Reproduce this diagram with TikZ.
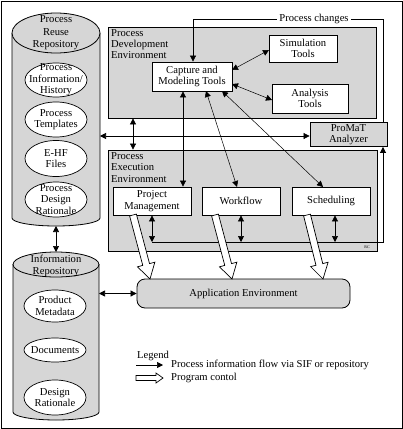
\documentclass[tikz,border=0pt]{standalone}
\usepackage{fontspec}
\setmainfont{Liberation Serif}
\usetikzlibrary{arrows.meta,calc}
\definecolor{fillgray}{RGB}{214,214,214}
\newcommand{\hollowarrow}[5]{%
  \coordinate (haA) at (#1); \coordinate (haB) at (#2);
  \coordinate (haC) at ($(haB)!#5!(haA)$);
  \filldraw[fill=white, line width=0.7pt, line join=miter]
    ($(haA)!#3!90:(haB)$) -- ($(haC)!#3!-90:(haA)$) -- ($(haC)!#4!-90:(haA)$)
    -- (haB) -- ($(haC)!#4!90:(haA)$) -- ($(haC)!#3!90:(haA)$)
    -- ($(haA)!#3!-90:(haB)$) -- cycle;
}
\begin{document}
\begin{tikzpicture}[x=1pt,y=-1pt,
  every node/.style={font=\fontsize{10.6}{12.5}\selectfont},
  box/.style={draw, fill=white, line width=0.8pt, align=center, inner sep=1pt},
  graybox/.style={draw, fill=fillgray, line width=0.8pt, inner sep=0pt},
  lbl/.style={align=center, inner sep=0pt, font=\fontsize{10.6}{11.5}\selectfont},
  arr/.style={-{Triangle[length=6pt,width=6pt]}, line width=0.7pt},
  darr/.style={{Triangle[length=6pt,width=6pt]}-{Triangle[length=6pt,width=6pt]}, line width=0.7pt},
  thin arr/.style={{Triangle[length=6pt,width=6pt]}-{Triangle[length=6pt,width=6pt]}, line width=0.5pt}
]
\useasboundingbox (0,0) rectangle (403,429);
\draw[line width=1pt] (1,1) rectangle (402,428);

% ---------- Process Reuse Repository (cylinder) ----------
\filldraw[fill=fillgray, line width=0.8pt] (12,33) -- (12,218)
  arc[start angle=180, end angle=0, x radius=44, y radius=8] -- (100,33);
\filldraw[fill=fillgray, line width=0.8pt] (56,33) ellipse[x radius=44, y radius=20];
\node[lbl, font=\fontsize{10.6}{12.5}\selectfont] (prr) at (56,33) {Process\\Reuse\\Repository};
\coordinate (prrbot) at (56,226);
\coordinate (prrright) at (100,136);

\draw[fill=white, line width=0.7pt] (56,80) ellipse[x radius=31, y radius=17];
\node[lbl] (pih) at (56,80) {Process\\Information/\\History};
\draw[fill=white, line width=0.7pt] (56,119.5) ellipse[x radius=31, y radius=17.5];
\node[lbl] (pt) at (56,119.5) {Process\\Templates};
\draw[fill=white, line width=0.7pt] (56,158.5) ellipse[x radius=31, y radius=18];
\node[lbl] (ehf) at (56,158.5) {E-HF\\Files};
\draw[fill=white, line width=0.7pt] (56,199.5) ellipse[x radius=31, y radius=17.5];
\node[lbl] (pdr) at (56,199.5) {Process\\Design\\Rationale};

% ---------- Information Repository (cylinder) ----------
\filldraw[fill=fillgray, line width=0.8pt] (13,264) -- (13,412)
  arc[start angle=180, end angle=0, x radius=43, y radius=8] -- (99,264);
\filldraw[fill=fillgray, line width=0.8pt] (56,264.5) ellipse[x radius=43, y radius=12.5];
\node[lbl] (ir) at (56,266) {Information\\Repository};
\coordinate (irtop) at (56,252);

\draw[fill=white, line width=0.7pt] (55,306) ellipse[x radius=31, y radius=16];
\node[lbl] (pmd) at (55,306) {Product\\Metadata};
\draw[fill=white, line width=0.7pt] (55,350) ellipse[x radius=31, y radius=12];
\node[lbl] (doc) at (55,350) {Documents};
\draw[fill=white, line width=0.7pt] (55,397.5) ellipse[x radius=31, y radius=17.5];
\node[lbl] (dr) at (55,397.5) {Design\\Rationale};

\draw[darr] (prrbot) -- (irtop);

% ---------- Process Development Environment ----------
\node[graybox, minimum width=268pt, minimum height=91pt] (pde) at (242,72.5) {};
\node[anchor=north west, align=left, inner sep=0pt, font=\fontsize{10.6}{11}\selectfont] (pdel) at (111,29) {Process\\Development\\Environment};
\node[box, minimum width=80pt, minimum height=29pt, font=\fontsize{10.6}{11.5}\selectfont] (cap) at (192,76.5) {Capture and\\Modeling Tools};
\node[box, minimum width=68pt, minimum height=27pt, font=\fontsize{10.6}{11.5}\selectfont] (sim) at (303,48.5) {Simulation\\Tools};
\node[box, minimum width=76pt, minimum height=29pt, font=\fontsize{10.6}{11.5}\selectfont] (ana) at (310,98.5) {Analysis\\Tools};

% ---------- ProMaT Analyzer ----------
\node[graybox, minimum width=77pt, minimum height=24pt, align=center, font=\fontsize{10.6}{11}\selectfont] (promat) at (348.5,134.5) {ProMaT\\Analyzer};

% ---------- Process Execution Environment ----------
\node[graybox, minimum width=269pt, minimum height=101pt] (pee) at (242.5,200.5) {};
\node[anchor=north west, align=left, inner sep=0pt, font=\fontsize{10.6}{11.5}\selectfont] (peel) at (111,152) {Process\\Execution\\Environment};
\node[box, minimum width=78pt, minimum height=28pt, font=\fontsize{10.6}{11.5}\selectfont] (pm) at (152,201) {Project\\Management};
\node[box, minimum width=78pt, minimum height=28pt] (wf) at (241,201) {Workflow};
\node[box, minimum width=78pt, minimum height=28pt] (sch) at (331,201) {Scheduling};
\node[inner sep=0pt, font=\fontsize{4}{4}\selectfont] (rc) at (367,247) {RC};

% ---------- Application Environment ----------
\node[draw, fill=fillgray, rounded corners=8pt, line width=0.8pt, minimum width=213pt, minimum height=29pt] (app) at (243.5,293.5) {Application Environment};

% ---------- Process changes loop ----------
\coordinate (pcR) at (383,19);
\coordinate (pcL) at (193,19);
\draw[arr] (promat.north -| pcR) -- (pcR) -- (pcL) -- (cap.north -| pcL);
\node[fill=white, inner sep=2pt] (pcl) at (314,19) {Process changes};

% ---------- bottom feedback line to ProMaT ----------
\coordinate (bl) at (152,242);
\coordinate (br) at (383,242);
\coordinate (schx) at (335,0);
\draw[arr] (bl) -- (br) -- (promat.south -| br);
\draw[darr] (pm.south) -- (pm.south |- bl);
\draw[darr] (wf.south) -- (wf.south |- bl);
\draw[darr] (sch.south -| schx) -- (schx |- bl);

% ---------- connectors ----------
\coordinate (xa) at (133,0);
\draw[darr] (pde.south -| xa) -- (pee.north -| xa);
\draw[darr] (prrright) -- (promat.west |- prrright);
\coordinate (xb) at (183,0);
\draw[darr] (cap.south -| xb) -- (pm.north -| xb);
\coordinate (c1) at (206,91);
\coordinate (w1) at (237,187);
\draw[thin arr] (c1) -- (w1);
\coordinate (c2) at (222,91);
\coordinate (s1) at (323,187);
\draw[thin arr] (c2) -- (s1);
\coordinate (c3) at (232,70);
\coordinate (sm1) at (269,50);
\draw[thin arr] (c3) -- (sm1);
\coordinate (c4) at (232,84);
\coordinate (an1) at (272,100);
\draw[thin arr] (c4) -- (an1);
\coordinate (irright) at (99,0);
\draw[darr] (irright |- app.west) -- (app.west);

% ---------- program control arrows ----------
\hollowarrow{133,215}{150,279}{3.5pt}{9pt}{15pt}
\hollowarrow{215,215}{232,279}{3.5pt}{9pt}{15pt}
\hollowarrow{307,215}{323,279}{3.5pt}{9pt}{15pt}

% ---------- legend ----------
\node[anchor=west, inner sep=0pt] (leg) at (137,356) {Legend};
\coordinate (l1a) at (136,365);
\coordinate (l1b) at (163,365);
\draw[arr] (l1a) -- (l1b);
\node[anchor=west, inner sep=0pt] (leg1) at (171,365) {Process information flow via SIF or repository};
\hollowarrow{136,378}{163,378}{2.5pt}{5pt}{7pt}
\node[anchor=west, inner sep=0pt] (leg2) at (171,378) {Program contol};
\end{tikzpicture}
\end{document}
